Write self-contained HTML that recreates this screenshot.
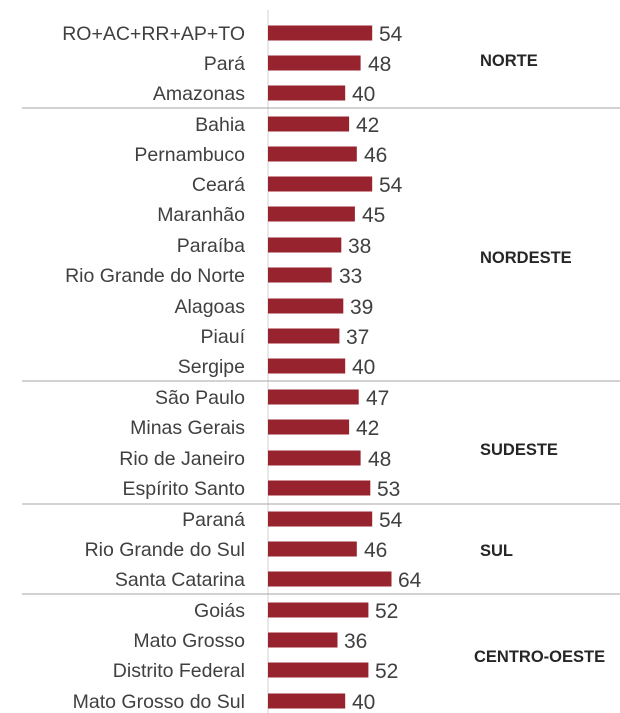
<!DOCTYPE html>
<html><head><meta charset="utf-8"><style>
body{margin:0;background:#fff;}
svg{display:block;font-family:"Liberation Sans",sans-serif;}
.l{font-size:19.5px;fill:#404040;text-anchor:end;}
.v{font-size:21px;fill:#404040;}
.r{font-size:16.5px;font-weight:bold;fill:#262626;}
rect{fill:#97232f;}
</style></head><body>
<svg width="620" height="713" viewBox="0 0 620 713">
<line x1="268" y1="10" x2="268" y2="713" stroke="#d0d0d0" stroke-width="1"/>
<g stroke="#a6a6a6" stroke-width="1">
<line x1="22" y1="108" x2="620" y2="108"/>
<line x1="22" y1="381" x2="620" y2="381"/>
<line x1="22" y1="504" x2="620" y2="504"/>
<line x1="22" y1="594" x2="620" y2="594"/>
</g>
<rect x="268" y="25.5" width="104.2" height="15"/><text class="l" x="245" y="40">RO+AC+RR+AP+TO</text><text class="v" x="379" y="41">54</text>
<rect x="268" y="55.5" width="92.6" height="15"/><text class="l" x="245" y="70">Pará</text><text class="v" x="368" y="71">48</text>
<rect x="268" y="85.5" width="77.2" height="15"/><text class="l" x="245" y="100">Amazonas</text><text class="v" x="352" y="101">40</text>
<rect x="268" y="116.5" width="81.1" height="15"/><text class="l" x="245" y="131">Bahia</text><text class="v" x="356" y="132">42</text>
<rect x="268" y="146.5" width="88.8" height="15"/><text class="l" x="245" y="161">Pernambuco</text><text class="v" x="364" y="162">46</text>
<rect x="268" y="176.5" width="104.2" height="15"/><text class="l" x="245" y="191">Ceará</text><text class="v" x="379" y="192">54</text>
<rect x="268" y="206.5" width="86.9" height="15"/><text class="l" x="245" y="221">Maranhão</text><text class="v" x="362" y="222">45</text>
<rect x="268" y="237.5" width="73.3" height="15"/><text class="l" x="245" y="252">Paraíba</text><text class="v" x="348" y="253">38</text>
<rect x="268" y="267.5" width="63.7" height="15"/><text class="l" x="245" y="282">Rio Grande do Norte</text><text class="v" x="339" y="283">33</text>
<rect x="268" y="298.5" width="75.3" height="15"/><text class="l" x="245" y="313">Alagoas</text><text class="v" x="350" y="314">39</text>
<rect x="268" y="328.5" width="71.4" height="15"/><text class="l" x="245" y="343">Piauí</text><text class="v" x="346" y="344">37</text>
<rect x="268" y="358.5" width="77.2" height="15"/><text class="l" x="245" y="373">Sergipe</text><text class="v" x="352" y="374">40</text>
<rect x="268" y="389.5" width="90.7" height="15"/><text class="l" x="245" y="404">São Paulo</text><text class="v" x="366" y="405">47</text>
<rect x="268" y="419.5" width="81.1" height="15"/><text class="l" x="245" y="434">Minas Gerais</text><text class="v" x="356" y="435">42</text>
<rect x="268" y="450.5" width="92.6" height="15"/><text class="l" x="245" y="465">Rio de Janeiro</text><text class="v" x="368" y="466">48</text>
<rect x="268" y="480.5" width="102.3" height="15"/><text class="l" x="245" y="495">Espírito Santo</text><text class="v" x="377" y="496">53</text>
<rect x="268" y="511.5" width="104.2" height="15"/><text class="l" x="245" y="526">Paraná</text><text class="v" x="379" y="527">54</text>
<rect x="268" y="541.5" width="88.8" height="15"/><text class="l" x="245" y="556">Rio Grande do Sul</text><text class="v" x="364" y="557">46</text>
<rect x="268" y="571.5" width="123.5" height="15"/><text class="l" x="245" y="586">Santa Catarina</text><text class="v" x="398" y="587">64</text>
<rect x="268" y="602.5" width="100.4" height="15"/><text class="l" x="245" y="617">Goiás</text><text class="v" x="375" y="618">52</text>
<rect x="268" y="632.5" width="69.5" height="15"/><text class="l" x="245" y="647">Mato Grosso</text><text class="v" x="344" y="648">36</text>
<rect x="268" y="662.5" width="100.4" height="15"/><text class="l" x="245" y="677">Distrito Federal</text><text class="v" x="375" y="678">52</text>
<rect x="268" y="693.5" width="77.2" height="15"/><text class="l" x="245" y="708">Mato Grosso do Sul</text><text class="v" x="352" y="709">40</text>
<text class="r" x="480" y="66">NORTE</text>
<text class="r" x="480" y="263">NORDESTE</text>
<text class="r" x="480" y="455">SUDESTE</text>
<text class="r" x="480" y="556">SUL</text>
<text class="r" x="474" y="662">CENTRO-OESTE</text>
</svg>
</body></html>
